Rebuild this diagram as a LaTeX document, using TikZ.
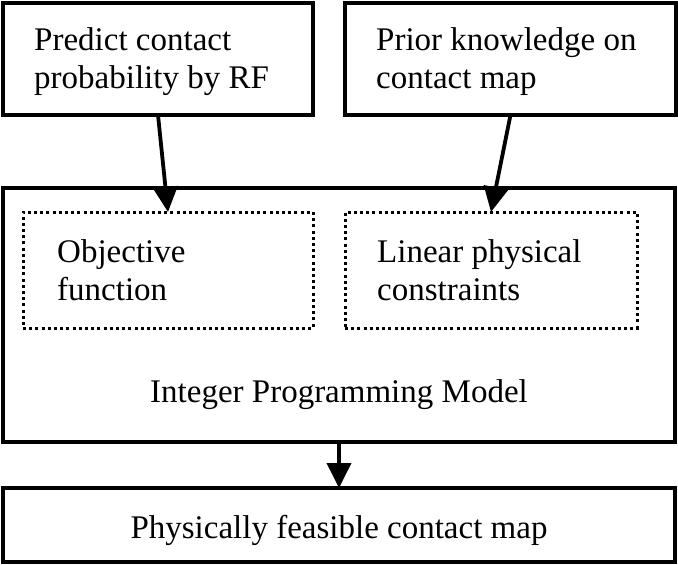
\documentclass[tikz,border=0pt]{standalone}
\usepackage{fontspec}
\setmainfont{Liberation Serif}
\usetikzlibrary{arrows.meta}
\begin{document}
\begin{tikzpicture}[x=1pt,y=-1pt,
  box/.style={draw=black, line width=3.2pt, rectangle, inner sep=0pt, outer sep=0pt},
  dotbox/.style={draw=black, line width=3pt, dash pattern=on 3pt off 3.2pt, rectangle, inner sep=0pt, outer sep=0pt},
  txt/.style={font=\fontsize{33}{38}\selectfont, inner sep=0pt, anchor=base west},
  ctxt/.style={font=\fontsize{33}{38}\selectfont, inner sep=0pt, anchor=base},
  arr/.style={line width=3.8pt, -{Triangle[length=25pt,width=24pt]}}]
\useasboundingbox (0,0) rectangle (678,565);
% solid boxes
\node[box, minimum width=310pt, minimum height=112pt] (pred) at (158,59) {};
\node[box, minimum width=331pt, minimum height=112pt] (prior) at (510.5,59) {};
\node[box, minimum width=672pt, minimum height=254pt] (ip) at (339,315) {};
\node[box, minimum width=672pt, minimum height=74pt] (out) at (339,525) {};
% dotted boxes
\node[dotbox, minimum width=290pt, minimum height=116pt] (obj) at (168,270) {};
\node[dotbox, minimum width=292pt, minimum height=116pt] (lin) at (491,270) {};
% texts
\node[txt] (t1) at (34,50) {Predict contact};
\node[txt] (t2) at (34,88) {probability by RF};
\node[txt] (t3) at (376,50) {Prior knowledge on};
\node[txt] (t4) at (376,88) {contact map};
\node[txt] (t5) at (57,262) {Objective};
\node[txt] (t6) at (57,300) {function};
\node[txt] (t7) at (377,262) {Linear physical};
\node[txt] (t8) at (377,300) {constraints};
\node[ctxt] (t9) at (339,402) {Integer Programming Model};
\node[ctxt] (t10) at (339,538) {Physically feasible contact map};
% arrows
\draw[arr] (pred.south) -- (obj.north);
\draw[arr] (prior.south) -- (lin.north);
\draw[arr] (ip.south) -- (out.north);
\end{tikzpicture}
\end{document}
